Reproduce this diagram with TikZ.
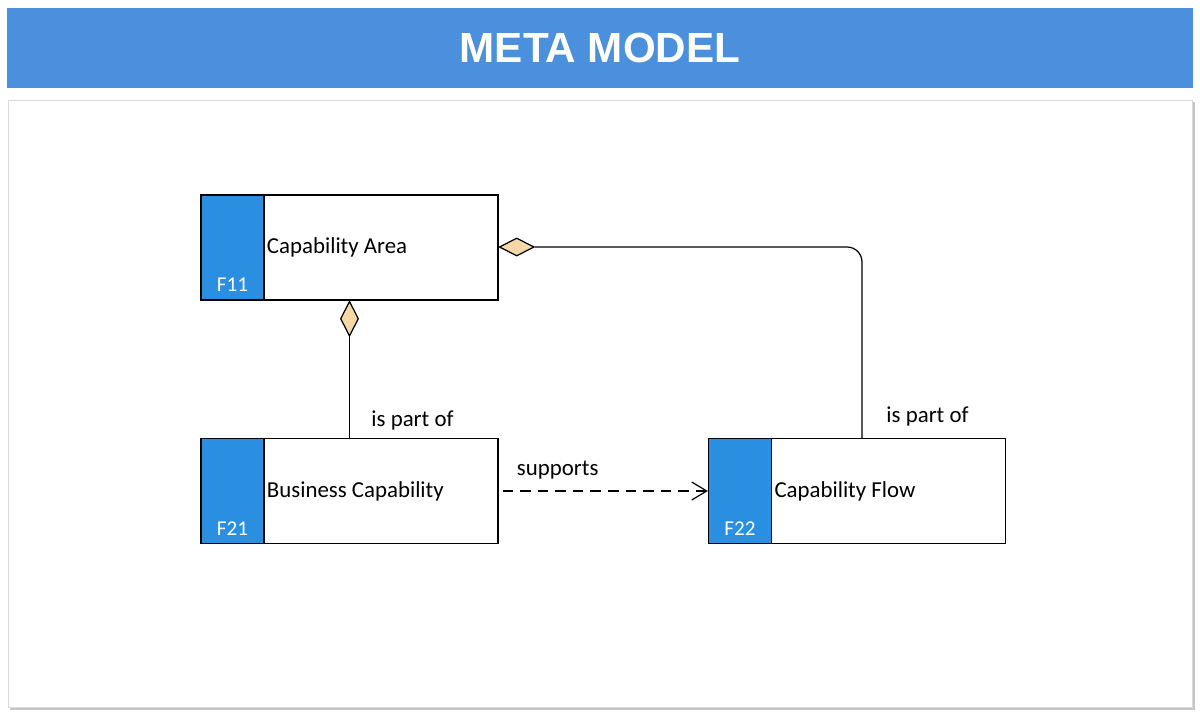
\documentclass[tikz,border=0pt]{standalone}
\usepackage{fontspec}
\setmainfont{Carlito}
\newfontfamily\titlefont{Liberation Sans}
\usetikzlibrary{shapes.geometric,arrows.meta,positioning}
\definecolor{bandblue}{HTML}{4A90DC}
\definecolor{stripblue}{HTML}{2A8FE0}
\definecolor{diafill}{HTML}{F5D7A8}
\begin{document}
\begin{tikzpicture}[
    line width=0.7pt,
    element/.style={rectangle, draw, fill=white, minimum width=5.94cm, minimum height=2.1cm, inner sep=0pt},
    strip/.style={rectangle, draw, fill=stripblue, minimum width=1.26cm, minimum height=2.1cm, anchor=west, inner sep=0pt},
    elabel/.style={anchor=west, inner sep=1pt, font=\fontsize{13}{15}\selectfont},
    code/.style={anchor=south, text=white, yshift=0.05cm, font=\fontsize{12}{14}\selectfont},
    agg/.style={diamond, draw, fill=diafill, minimum width=0.36cm, minimum height=0.7cm, inner sep=0pt},
    rel/.style={font=\fontsize{13}{15}\selectfont}
]
\useasboundingbox (0,0) rectangle (24,14.34);
% Header and panel
\fill[bandblue] (0.14,12.58) rectangle (23.86,14.18);
\node[text=white, font=\titlefont\bfseries\fontsize{24}{28}\selectfont] (title) at (12,13.38) {META MODEL};
\fill[gray!45] (0.2,0.14) rectangle (23.9,12.3);
\fill[white, draw=gray!30, line width=0.4pt] (0.16,0.2) rectangle (23.84,12.34);

% Elements
\node[element] (area) at (6.99,9.39) {};
\node[strip] (areaS) at (area.west) {};
\node[elabel] at (areaS.east) {Capability Area};
\node[code] at (areaS.south) {F11};

\node[element] (bizcap) at (6.99,4.52) {};
\node[strip] (bizcapS) at (bizcap.west) {};
\node[elabel] at (bizcapS.east) {Business Capability};
\node[code] at (bizcapS.south) {F21};

\node[element] (flow) at (17.14,4.52) {};
\node[strip] (flowS) at (flow.west) {};
\node[elabel] at (flowS.east) {Capability Flow};
\node[code] at (flowS.south) {F22};

% Aggregations
\node[agg, anchor=north] (aggA) at (area.south) {};
\draw (aggA.south) -- (aggA.south |- bizcap.north);
\node[rel, anchor=south west] (lblA) at (7.3,5.6) {is part of};
\node[agg, rotate=90, anchor=north] (aggB) at (area.east |- 0,9.4) {};
\coordinate (corner) at (17.24,9.4);
\draw[rounded corners=0.3cm] (aggB.south) -- (corner) -- (corner |- flow.north);
\node[rel, anchor=south west] (lblB) at (17.6,5.68) {is part of};

% Dependency
\draw[dashed, dash pattern=on 6pt off 4pt, -{Straight Barb[length=0.3cm, width=0.36cm]}] ([xshift=0.08cm]bizcap.east) -- (flowS.west) node[rel, midway, above, xshift=-0.95cm, yshift=0.1cm] {supports};
\end{tikzpicture}
\end{document}
